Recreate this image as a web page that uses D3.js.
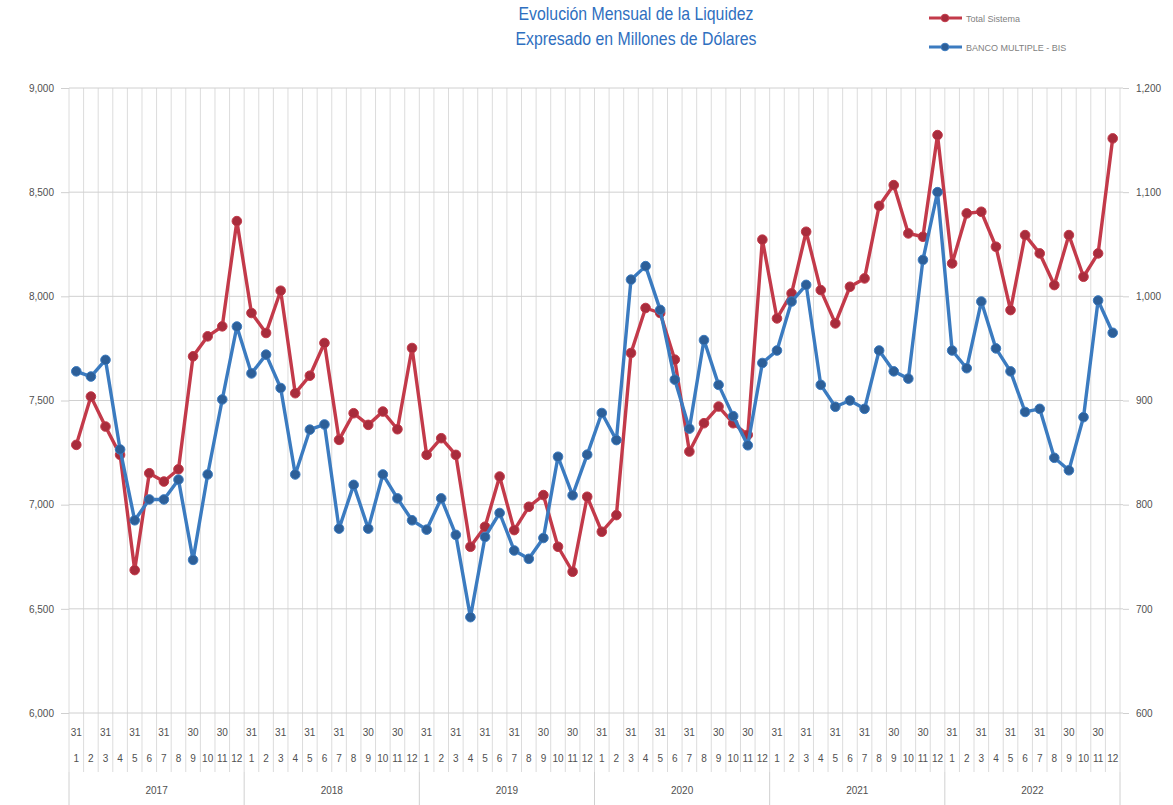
<!DOCTYPE html>
<html>
<head>
<meta charset="utf-8">
<script src="https://cdn.jsdelivr.net/npm/d3@7"></script>
<style>
  body { margin: 0; background: #fff; }
  svg { display: block; }
  .tick text { font-family: "Liberation Sans", Arial, sans-serif; }
</style>
</head>
<body>
<div id="chart"></div>
<script>
// data (Millones de Dólares)
let years = ["2017", "2018", "2019", "2020", "2021", "2022"];
let monthLabels = ["1", "2", "3", "4", "5", "6", "7", "8", "9", "10", "11", "12"];
let dayLabels = ["31", "", "31", "", "31", "", "31", "", "30", "", "30", ""];

let totalSistema = [
  7287, 7519, 7375, 7239, 6686, 7151, 7111, 7170, 7712, 7808, 7856, 8361,
  7920, 7824, 8027, 7535, 7619, 7776, 7311, 7439, 7383, 7447, 7362, 7752,
  7239, 7319, 7239, 6798, 6894, 7135, 6878, 6990, 7046, 6798, 6678, 7038,
  6870, 6950, 7728, 7944, 7920, 7696, 7255, 7391, 7471, 7391, 7335, 8272,
  7894, 8014, 8310, 8030, 7870, 8046, 8086, 8434, 8534, 8302, 8286, 8774,
  8158, 8398, 8406, 8238, 7934, 8294, 8206, 8054, 8294, 8094, 8206, 8758
];
let bancoMultiple = [
  928, 923, 939, 853, 785, 805, 805, 824, 747, 829, 901, 971,
  926, 944, 912, 829, 872, 877, 777, 819, 777, 829, 806, 785,
  776, 806, 771, 692, 769, 792, 756, 748, 768, 846, 809, 848,
  888, 862, 1016, 1029, 987, 920, 873, 958, 915, 885, 857, 936,
  948, 995, 1011, 915, 894, 900, 892, 948, 928, 921, 1035, 1100,
  948, 931, 995, 950, 928, 889, 892, 845, 833, 884, 996, 965
];
let leftTicks = [6000, 6500, 7000, 7500, 8000, 8500, 9000];
let rightTicks = [600, 700, 800, 900, 1000, 1100, 1200];
let seriesNames = ["Total Sistema", "BANCO MULTIPLE - BIS"];

let width = 1173, height = 805;
let plot = {left: 69, right: 1120, top: 88, bottom: 713};

let svg = d3.select("#chart").append("svg")
    .attr("width", width)
    .attr("height", height);

let n = totalSistema.length;
let idx = d3.range(n);

let x = d3.scaleBand()
    .domain(idx)
    .range([plot.left, plot.right])
    .padding(0);
let cx = i => x(i) + x.bandwidth() / 2;

let yL = d3.scaleLinear().domain([6000, 9000]).range([plot.bottom, plot.top]);
let yR = d3.scaleLinear().domain([600, 1200]).range([plot.bottom, plot.top]);

// vertical gridlines, one per month, running down through the labels
svg.append("g")
    .selectAll("line")
    .data(d3.range(n + 1))
    .enter()
    .append("line")
    .attr("x1", i => plot.left + i * x.bandwidth())
    .attr("x2", i => plot.left + i * x.bandwidth())
    .attr("y1", plot.top)
    .attr("y2", 772)
    .attr("stroke", "#dcdcdc")
    .attr("stroke-width", 1);

// year separators
svg.append("g")
    .selectAll("line")
    .data(d3.range(years.length + 1))
    .enter()
    .append("line")
    .attr("x1", k => plot.left + k * 12 * x.bandwidth())
    .attr("x2", k => plot.left + k * 12 * x.bandwidth())
    .attr("y1", 772)
    .attr("y2", 805)
    .attr("stroke", "#d0d0d0");

// left axis + horizontal gridlines
let gL = svg.append("g")
    .attr("transform", "translate(" + plot.left + ",0)")
    .call(d3.axisLeft(yL).tickValues(leftTicks).tickFormat(d3.format(",")).tickSize(8).tickPadding(7));
gL.select(".domain").remove();
gL.selectAll(".tick line").attr("stroke", "#d0d0d0");
gL.selectAll(".tick text").attr("fill", "#505050").style("font-size", "10px");

svg.append("g")
    .selectAll("line")
    .data(leftTicks)
    .enter()
    .append("line")
    .attr("x1", plot.left)
    .attr("x2", plot.right + 3)
    .attr("y1", d => yL(d))
    .attr("y2", d => yL(d))
    .attr("stroke", "#d0d0d0");

// right axis
let gR = svg.append("g")
    .attr("transform", "translate(" + (plot.right + 3) + ",0)")
    .call(d3.axisRight(yR).tickValues(rightTicks).tickFormat(d3.format(",")).tickSize(6).tickPadding(7));
gR.select(".domain").remove();
gR.selectAll(".tick line").attr("stroke", "#d0d0d0");
gR.selectAll(".tick text").attr("fill", "#505050").style("font-size", "10px");

// category labels: day, month, year
let lab = svg.append("g")
    .style("font-family", "'Liberation Sans', Arial, sans-serif")
    .style("font-size", "10px")
    .attr("fill", "#505050")
    .attr("text-anchor", "middle");

lab.selectAll("text.day")
    .data(idx)
    .enter()
    .append("text")
    .attr("class", "day")
    .attr("x", i => cx(i))
    .attr("y", 736)
    .text(i => dayLabels[i % 12]);

lab.selectAll("text.month")
    .data(idx)
    .enter()
    .append("text")
    .attr("class", "month")
    .attr("x", i => cx(i))
    .attr("y", 762)
    .text(i => monthLabels[i % 12]);

lab.selectAll("text.year")
    .data(years)
    .enter()
    .append("text")
    .attr("class", "year")
    .attr("x", (d, k) => plot.left + (k * 12 + 6) * x.bandwidth())
    .attr("y", 794)
    .text(d => d);

// lines
let redLine = "#c33a4a", redDot = "#a82c3c";
let blueLine = "#3b7bc0", blueDot = "#2d5f98";

let lineL = d3.line().x((d, i) => cx(i)).y(d => yL(d));
let lineR = d3.line().x((d, i) => cx(i)).y(d => yR(d));

svg.append("path")
    .datum(totalSistema)
    .attr("d", lineL)
    .attr("fill", "none")
    .attr("stroke", redLine)
    .attr("stroke-width", 3.4)
    .attr("stroke-linejoin", "round");

svg.append("g")
    .selectAll("circle")
    .data(totalSistema)
    .enter()
    .append("circle")
    .attr("cx", (d, i) => cx(i))
    .attr("cy", d => yL(d))
    .attr("r", 4.8)
    .attr("fill", redDot)
    .attr("stroke", redLine)
    .attr("stroke-width", 1);

svg.append("path")
    .datum(bancoMultiple)
    .attr("d", lineR)
    .attr("fill", "none")
    .attr("stroke", blueLine)
    .attr("stroke-width", 3.4)
    .attr("stroke-linejoin", "round");

svg.append("g")
    .selectAll("circle")
    .data(bancoMultiple)
    .enter()
    .append("circle")
    .attr("cx", (d, i) => cx(i))
    .attr("cy", d => yR(d))
    .attr("r", 4.8)
    .attr("fill", blueDot)
    .attr("stroke", blueLine)
    .attr("stroke-width", 1);

// title (condensed look by squeezing horizontally)
let title = svg.append("g")
    .attr("transform", "translate(636,0) scale(0.88,1)")
    .attr("text-anchor", "middle")
    .attr("fill", "#2f6fc0")
    .style("font-family", "'Liberation Sans', Arial, sans-serif")
    .style("font-size", "18px");
title.append("text").attr("x", 0).attr("y", 20).text("Evolución Mensual de la Liquidez");
title.append("text").attr("x", 0).attr("y", 45).text("Expresado en Millones de Dólares");

// legend
let legend = svg.append("g")
    .style("font-family", "'Liberation Sans', Arial, sans-serif")
    .style("font-size", "9px");
let legItems = [
  {name: seriesNames[0], line: redLine, dot: redDot, y: 18},
  {name: seriesNames[1], line: blueLine, dot: blueDot, y: 47}
];
legItems.forEach(function(d) {
    legend.append("line")
        .attr("x1", 929).attr("x2", 962)
        .attr("y1", d.y).attr("y2", d.y)
        .attr("stroke", d.line).attr("stroke-width", 3);
    legend.append("circle")
        .attr("cx", 945).attr("cy", d.y).attr("r", 3.8)
        .attr("fill", d.dot).attr("stroke", d.line);
    legend.append("text")
        .attr("x", 966).attr("y", d.y + 3.5)
        .attr("fill", "#7f7f7f")
        .text(d.name);
});
</script>
</body>
</html>
